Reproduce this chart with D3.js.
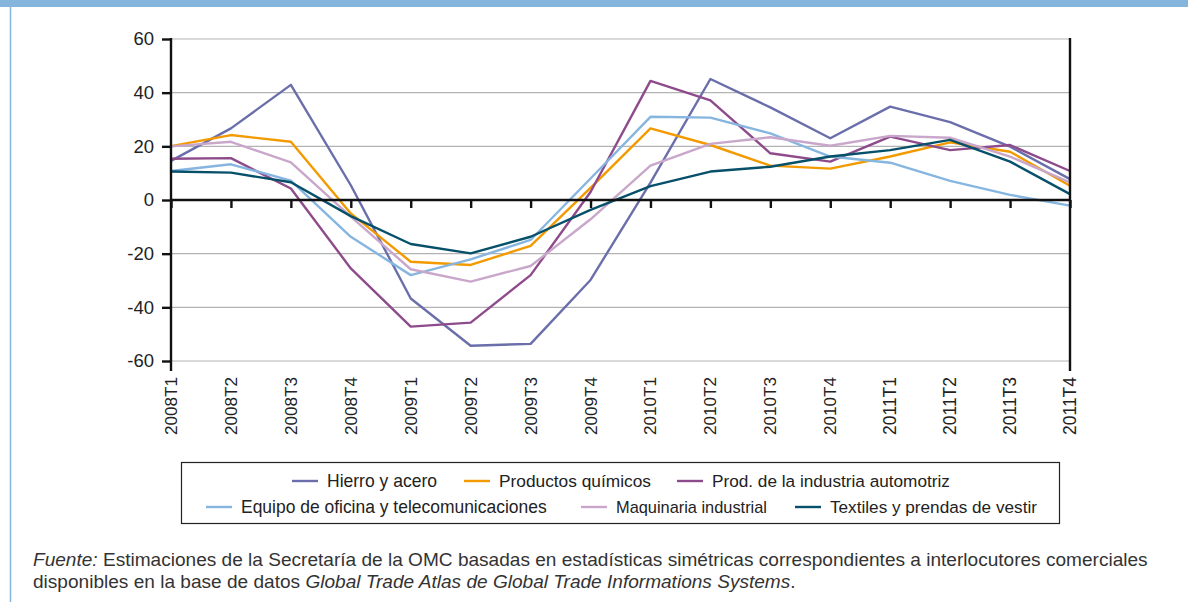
<!DOCTYPE html>
<html><head><meta charset="utf-8">
<script src="https://cdn.jsdelivr.net/npm/d3@7"></script>
<style>
html,body{margin:0;padding:0;background:#fff;}
svg{display:block;font-family:"Liberation Sans",Arial,sans-serif;}
</style></head>
<body><svg id="c" width="1188" height="602"></svg>
<script>
const categories = ["2008T1","2008T2","2008T3","2008T4","2009T1","2009T2","2009T3","2009T4","2010T1","2010T2","2010T3","2010T4","2011T1","2011T2","2011T3","2011T4"];
const yTicks = [-60,-40,-20,0,20,40,60];
const hierro      = [14.6, 26.7, 42.9, 5.5, -36.7, -54.3, -53.6, -29.8, 6.5, 45.1, 34.5, 23.0, 34.8, 29.0, 19.9, 7.8];
const quimicos    = [20.1, 24.2, 21.7, -5.0, -23.0, -24.2, -17.1, 4.5, 26.7, 20.5, 12.8, 11.7, 16.2, 21.5, 18.0, 5.3];
const automotriz  = [15.4, 15.6, 4.3, -25.5, -47.2, -45.7, -28.0, 3.0, 44.4, 37.1, 17.4, 14.3, 23.6, 18.6, 20.5, 10.8];
const oficina     = [10.8, 13.3, 7.2, -13.7, -28.0, -22.1, -14.9, 8.0, 31.0, 30.7, 24.8, 16.2, 13.9, 7.1, 1.9, -2.1];
const maquinaria  = [20.0, 21.7, 14.0, -6.2, -25.8, -30.4, -24.6, -7.2, 12.8, 20.9, 23.4, 20.2, 23.9, 23.2, 16.2, 6.6];
const textiles    = [10.6, 10.2, 6.6, -6.0, -16.4, -19.9, -13.7, -3.7, 5.2, 10.6, 12.4, 16.2, 18.6, 22.4, 14.3, 2.2];
const seriesNames = ["Hierro y acero","Productos químicos","Prod. de la industria automotriz","Equipo de oficina y telecomunicaciones","Maquinaria industrial","Textiles y prendas de vestir"];
const seriesColors = ["#6a6fab","#f39a00","#8e4b8c","#86b6e0","#c9a7cb","#07506a"];
const seriesValues = [hierro, quimicos, automotriz, oficina, maquinaria, textiles];

const svg = d3.select("#c");
svg.append("rect").attr("x",0).attr("y",0).attr("width",1188).attr("height",7).attr("fill","#85b5dd");
svg.append("line").attr("x1",10.5).attr("x2",10.5).attr("y1",7).attr("y2",602).attr("stroke","#85b5dd").attr("stroke-width",1.5);

const x = d3.scalePoint().domain(categories).range([171,1070]);
const y = d3.scaleLinear().domain([-60,60]).range([361,39]);

function fitSize(sel, w){
  sel.each(function(){
    const t = d3.select(this);
    const fs = parseFloat(t.attr("font-size"));
    const cur = this.getComputedTextLength();
    t.attr("font-size", (fs*w/cur).toFixed(2));
  });
}

// grid
svg.append("g").selectAll("line").data(yTicks.filter(d=>d!==0)).join("line")
  .attr("x1",171).attr("x2",1070).attr("y1",d=>y(d)).attr("y2",d=>y(d))
  .attr("stroke","#b3b3b3").attr("stroke-width",1.2);

// lines
const line = d3.line().x((d,i)=>x(categories[i])).y(d=>y(d));
const order = [0,1,2,3,4,5];
svg.append("g").selectAll("path").data(order).join("path")
  .attr("d",i=>line(seriesValues[i])).attr("fill","none")
  .attr("stroke",i=>seriesColors[i]).attr("stroke-width",2.4)
  .attr("stroke-linejoin","round");

// zero axis with ticks
const xAxis = d3.axisBottom(x).tickSize(8).tickFormat("");
const gx = svg.append("g").attr("transform",`translate(0,${y(0)})`).call(xAxis);
gx.select(".domain").attr("stroke","#111").attr("stroke-width",2.4).attr("d",`M171,0H1070`);
gx.selectAll(".tick line").attr("stroke","#111").attr("stroke-width",2.4);

// x labels
const xl = svg.append("g").selectAll("text").data(categories).join("text")
  .attr("transform",d=>`translate(${x(d)+6},377) rotate(-90)`)
  .attr("text-anchor","end").attr("font-size",16).attr("fill","#222").text(d=>d);
fitSize(xl, 58);

// left y axis
const yAxis = d3.axisLeft(y).tickValues(yTicks).tickSize(9).tickPadding(8).tickFormat(d=>String(d));
const gy = svg.append("g").attr("transform","translate(171,0)").call(yAxis);
gy.select(".domain").attr("stroke","#111").attr("stroke-width",2.4).attr("d","M0,38V371");
gy.selectAll(".tick line").attr("stroke","#111").attr("stroke-width",2.4);
gy.selectAll(".tick text").attr("font-size",18.5).attr("fill","#222").attr("font-family","Liberation Sans, Arial, sans-serif");
svg.append("line").attr("x1",1070).attr("x2",1070).attr("y1",38).attr("y2",371).attr("stroke","#111").attr("stroke-width",2.4);

// legend
svg.append("rect").attr("x",181.5).attr("y",462.5).attr("width",878).attr("height",61)
  .attr("fill","#fff").attr("stroke","#222").attr("stroke-width",1.2);
const legendPos = [[327,481],[499,481],[712,481],[241,507],[616,507],[830,507]];
const legendW = [110,152,238,306,151,207];
const lg = svg.append("g").selectAll("g").data(order).join("g")
  .attr("transform",i=>`translate(${legendPos[i][0]},${legendPos[i][1]})`);
lg.append("line").attr("x1",-35).attr("x2",-9).attr("y1",0).attr("y2",0)
  .attr("stroke",i=>seriesColors[i]).attr("stroke-width",2.4);
lg.append("text").attr("x",0).attr("y",5.5).attr("font-size",16).attr("fill","#222").text(i=>seriesNames[i]);
lg.select("text").each(function(i){ fitSize(d3.select(this), legendW[i]); });

// footer
const f1 = svg.append("text").attr("x",33).attr("y",566).attr("font-size",16).attr("fill","#333");
f1.append("tspan").attr("font-style","italic").text("Fuente:");
f1.append("tspan").text(" Estimaciones de la Secretaría de la OMC basadas en estadísticas simétricas correspondientes a interlocutores comerciales");
const f2 = svg.append("text").attr("x",33).attr("y",588).attr("font-size",16).attr("fill","#333");
f2.append("tspan").text("disponibles en la base de datos ");
f2.append("tspan").attr("font-style","italic").text("Global Trade Atlas de Global Trade Informations Systems");
f2.append("tspan").text(".");
fitSize(f1, 1115);
f2.attr("font-size", f1.attr("font-size"));
</script></body></html>
